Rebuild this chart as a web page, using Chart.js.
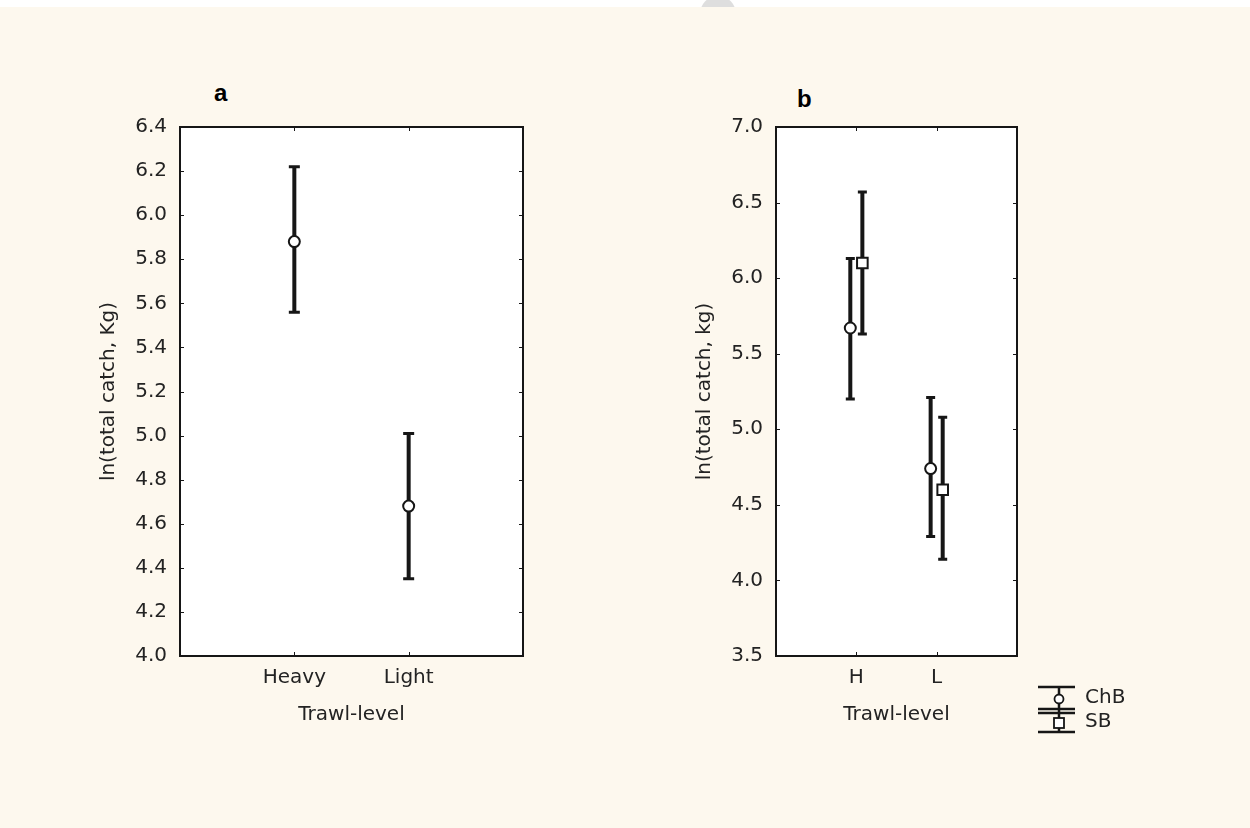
<!DOCTYPE html>
<html>
<head>
<meta charset="utf-8">
<script src="https://cdn.jsdelivr.net/npm/chart.js@4"></script>
<style>
  html { margin: 0; padding: 0; background: #fdf8ee; overflow: hidden; }
  body {
    margin: 0; padding: 0;
    width: 1250px; height: 828px; position: relative; overflow: hidden;
    background: #fdf8ee;
    font-family: "DejaVu Sans", sans-serif;
  }
  #strip { position: absolute; left: 0; top: 0; width: 1250px; height: 7px; background: #ffffff; overflow: hidden; }
  #dot { position: absolute; left: 700px; top: -4px; width: 36px; height: 36px; border-radius: 50%; background: #dedede; }
  .panel { position: absolute; top: 0; height: 828px; }
  #wrapA { left: 0; width: 560px; }
  #wrapB { left: 560px; width: 690px; }
  .tag { position: absolute; font: bold 24px "Liberation Sans", Arial, sans-serif; color: #000; line-height: 1; }
</style>
</head>
<body>
<div id="strip"><div id="dot"></div></div>
<div class="tag" style="left:214px; top:81px;">a</div>
<div class="tag" style="left:797px; top:87px;">b</div>
<div class="panel" id="wrapA"><canvas id="chartA"></canvas></div>
<div class="panel" id="wrapB"><canvas id="chartB"></canvas></div>

<script>
// Panel a: total catch by trawl level (mean with confidence interval)
const catsA = ['Heavy', 'Light'];
const meanA = [5.88, 4.68];
const lowA  = [5.56, 4.35];
const highA = [6.22, 5.01];
const yTicksA = [4.0, 4.2, 4.4, 4.6, 4.8, 5.0, 5.2, 5.4, 5.6, 5.8, 6.0, 6.2, 6.4];

// Panel b: total catch by trawl level and area
const catsB = ['H', 'L'];
const seriesNames = ['ChB', 'SB'];
const meanChB = [5.67, 4.74];
const lowChB  = [5.20, 4.29];
const highChB = [6.13, 5.21];
const meanSB  = [6.10, 4.60];
const lowSB   = [5.63, 4.14];
const highSB  = [6.57, 5.08];
const yTicksB = [3.5, 4.0, 4.5, 5.0, 5.5, 6.0, 6.5, 7.0];

const INK = '#161616';
const TEXT = '#232323';
const FONT = { family: '"DejaVu Sans", sans-serif', size: 20 };

function points(means, lows, highs, shift) {
  return means.map((m, i) => ({ x: i + 1 + shift, y: m, lo: lows[i], hi: highs[i] }));
}

// Vertical interval bars with end caps, drawn beneath the point markers
function errorBarPlugin(capHalf) {
  return {
    id: 'errorBars',
    beforeDatasetsDraw(chart) {
      const { ctx, scales: { x, y } } = chart;
      ctx.save();
      ctx.strokeStyle = INK;
      chart.data.datasets.forEach(ds => {
        ds.data.forEach(p => {
          const px = x.getPixelForValue(p.x);
          const yLo = y.getPixelForValue(p.lo);
          const yHi = y.getPixelForValue(p.hi);
          ctx.lineWidth = 4;
          ctx.beginPath(); ctx.moveTo(px, yLo); ctx.lineTo(px, yHi); ctx.stroke();
          ctx.lineWidth = 3;
          ctx.beginPath();
          ctx.moveTo(px - capHalf, yLo); ctx.lineTo(px + capHalf, yLo);
          ctx.moveTo(px - capHalf, yHi); ctx.lineTo(px + capHalf, yHi);
          ctx.stroke();
        });
      });
      ctx.restore();
    }
  };
}

// Plot frame with inward tick marks on all four sides
const framePlugin = {
  id: 'frame',
  afterDatasetsDraw(chart) {
    const { ctx, chartArea: a, scales: { x, y } } = chart;
    ctx.save();
    ctx.strokeStyle = INK;
    ctx.lineWidth = 1;
    ctx.beginPath();
    y.ticks.forEach(t => {
      const py = Math.round(y.getPixelForValue(t.value)) + 0.5;
      ctx.moveTo(a.left, py); ctx.lineTo(a.left + 4, py);
      ctx.moveTo(a.right, py); ctx.lineTo(a.right - 4, py);
    });
    x.ticks.forEach(t => {
      const px = Math.round(x.getPixelForValue(t.value)) + 0.5;
      ctx.moveTo(px, a.top); ctx.lineTo(px, a.top + 4);
      ctx.moveTo(px, a.bottom); ctx.lineTo(px, a.bottom - 4);
    });
    ctx.stroke();
    ctx.lineWidth = 2;
    ctx.strokeRect(a.left, a.top, a.right - a.left, a.bottom - a.top);
    ctx.restore();
  }
};

// White plotting area
const plotBg = {
  id: 'plotBg',
  beforeDraw(chart) {
    const { ctx, chartArea: a } = chart;
    ctx.save();
    ctx.fillStyle = '#ffffff';
    ctx.fillRect(a.left, a.top, a.right - a.left, a.bottom - a.top);
    ctx.restore();
  }
};

// Key for panel b: interval symbols with circle and square markers
const keyPlugin = {
  id: 'key',
  afterDraw(chart) {
    const { ctx } = chart;
    const cx = 499, l = 478, r = 515;
    ctx.save();
    ctx.strokeStyle = INK;
    ctx.lineWidth = 2.5;
    ctx.beginPath();
    ctx.moveTo(cx, 687); ctx.lineTo(cx, 732);
    [687, 709, 713, 732].forEach(yy => { ctx.moveTo(l, yy); ctx.lineTo(r, yy); });
    ctx.stroke();
    ctx.fillStyle = '#ffffff';
    ctx.lineWidth = 1.8;
    ctx.beginPath(); ctx.arc(cx, 699, 4.5, 0, Math.PI * 2); ctx.fill(); ctx.stroke();
    ctx.fillRect(cx - 5, 718, 10, 10); ctx.strokeRect(cx - 5, 718, 10, 10);
    ctx.fillStyle = TEXT;
    ctx.font = '20px "DejaVu Sans", sans-serif';
    ctx.textBaseline = 'middle';
    ctx.textAlign = 'left';
    chart.data.datasets.forEach((ds, i) => ctx.fillText(ds.label, 525, i === 0 ? 698 : 722));
    ctx.restore();
  }
};

function buildOptions(cats, yMin, yMax, yTicks, yTitle, yWidth, yTitlePad, padRight) {
  return {
    responsive: true,
    maintainAspectRatio: false,
    animation: false,
    events: [],
    layout: { padding: { top: 127, right: padRight, left: 0, bottom: 0 } },
    plugins: { legend: { display: false }, tooltip: { enabled: false } },
    scales: {
      x: {
        type: 'linear', min: 0, max: 3,
        afterBuildTicks: s => { s.ticks = cats.map((c, i) => ({ value: i + 1 })); },
        ticks: { callback: (v, i) => cats[i], padding: 10, color: TEXT, font: FONT, autoSkip: false, maxRotation: 0 },
        grid: { display: false, drawTicks: false },
        border: { display: false },
        title: { display: true, text: 'Trawl-level', color: TEXT, font: FONT, padding: { top: 0, bottom: 101 } },
        afterFit: s => { s.height = 172; }
      },
      y: {
        type: 'linear', min: yMin, max: yMax,
        afterBuildTicks: s => { s.ticks = yTicks.map(v => ({ value: v })); },
        ticks: { callback: v => v.toFixed(1), padding: 13, color: TEXT, font: FONT },
        grid: { display: false, drawTicks: false },
        border: { display: false },
        title: { display: true, text: yTitle, color: TEXT, font: FONT, padding: { top: yTitlePad, bottom: 0 } },
        afterFit: s => { s.width = yWidth; }
      }
    }
  };
}

const markerStyle = { backgroundColor: '#ffffff', borderColor: INK, borderWidth: 2, showLine: false };

new Chart(document.getElementById('chartA'), {
  type: 'scatter',
  data: {
    datasets: [{
      label: 'Trawl-level',
      data: points(meanA, lowA, highA, 0),
      pointStyle: 'circle', pointRadius: 5.5, ...markerStyle
    }]
  },
  options: buildOptions(catsA, 4.0, 6.4, yTicksA, 'ln(total catch, Kg)', 180, 97, 37),
  plugins: [plotBg, errorBarPlugin(5.5), framePlugin]
});

new Chart(document.getElementById('chartB'), {
  type: 'scatter',
  data: {
    datasets: [
      { label: seriesNames[0], data: points(meanChB, lowChB, highChB, -0.075),
        pointStyle: 'circle', pointRadius: 5.5, ...markerStyle },
      { label: seriesNames[1], data: points(meanSB, lowSB, highSB, 0.075),
        pointStyle: 'rect', pointRadius: 7.5, ...markerStyle }
    ]
  },
  options: buildOptions(catsB, 3.5, 7.0, yTicksB, 'ln(total catch, kg)', 216, 133, 233),
  plugins: [plotBg, errorBarPlugin(4.5), framePlugin, keyPlugin]
});
</script>
</body>
</html>
